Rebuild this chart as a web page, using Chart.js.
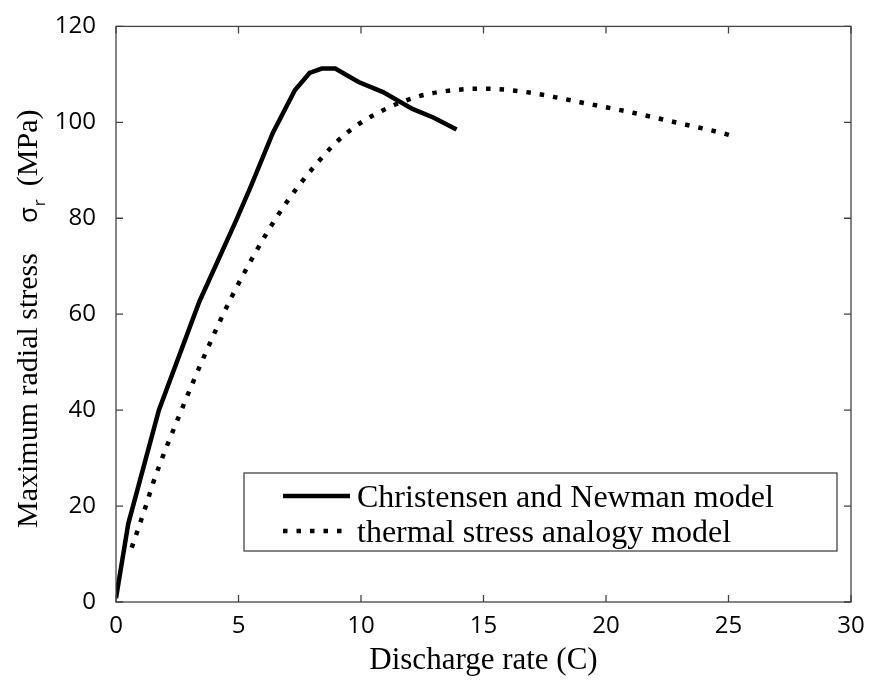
<!DOCTYPE html>
<html>
<head>
<meta charset="utf-8">
<script src="https://cdn.jsdelivr.net/npm/chart.js@4"></script>
<style>
  html, body { margin: 0; padding: 0; background: #fff; }
</style>
</head>
<body>
<canvas id="stress" width="874" height="684"></canvas>
<script>
// Christensen and Newman model (solid)
const rateCN   = [0, 0.5, 1.75, 3.4, 4.9, 5.5, 6.4, 7.3, 7.9, 8.4, 8.95, 9.9, 10.9, 12.1, 12.95, 13.9];
const stressCN = [0.8, 16.3, 40, 62.6, 79.5, 86.6, 97.8, 106.7, 110.3, 111.2, 111.2, 108.4, 106.3, 102.8, 101, 98.5];

// thermal stress analogy model (dotted)
const rateTS   = [0.64, 1.25, 1.52, 2.68, 3.57, 4.72, 6.63, 8.26, 9.42, 10.78, 12.34, 13.97, 15.1, 16.76, 18.94, 21.1, 23.27, 24.93, 25.35];
const stressTS = [11.3, 20.5, 24.9, 40.1, 50.9, 63.6, 80.8, 91.8, 97.8, 102.2, 105.4, 106.8, 107, 106.3, 104.2, 102, 99.5, 97.5, 96.8];

const seriesNames = ['Christensen and Newman model', 'thermal stress analogy model'];
const xTicks = [0, 5, 10, 15, 20, 25, 30];
const yTicks = [0, 20, 40, 60, 80, 100, 120];

const toPoints = (xs, ys) => xs.map((x, i) => ({ x: x, y: ys[i] }));

const tickFont = { family: 'Open Sans', size: 24 };
const serif = '"Liberation Serif", "DejaVu Serif", serif';

// box around the plot with inward ticks on all four sides (matlab look)
const boxPlugin = {
  id: 'box',
  afterDatasetsDraw(chart) {
    const ctx = chart.ctx, a = chart.chartArea;
    const xs = chart.scales.x, ys = chart.scales.y;
    const len = 7;
    ctx.save();
    ctx.strokeStyle = '#444';
    ctx.lineWidth = 1.3;
    ctx.strokeRect(a.left, a.top, a.right - a.left, a.bottom - a.top);
    ctx.beginPath();
    xTicks.forEach(v => {
      const px = xs.getPixelForValue(v);
      ctx.moveTo(px, a.bottom); ctx.lineTo(px, a.bottom - len);
      ctx.moveTo(px, a.top); ctx.lineTo(px, a.top + len);
    });
    yTicks.forEach(v => {
      const py = ys.getPixelForValue(v);
      ctx.moveTo(a.left, py); ctx.lineTo(a.left + len, py);
      ctx.moveTo(a.right, py); ctx.lineTo(a.right - len, py);
    });
    ctx.stroke();
    ctx.restore();
  }
};

// y title with the sigma_r subscript
const yTitlePlugin = {
  id: 'yTitle',
  afterDraw(chart) {
    const ctx = chart.ctx;
    ctx.save();
    ctx.translate(37, 528);
    ctx.rotate(-Math.PI / 2);
    ctx.fillStyle = '#000';
    ctx.textBaseline = 'alphabetic';
    ctx.font = '30px ' + serif;
    const first = 'Maximum radial stress';
    ctx.fillText(first, 0, 0);
    let pos = ctx.measureText(first).width + 30;
    ctx.font = '26px "Open Sans"';
    ctx.fillText('\u03c3', pos, 0);
    pos += ctx.measureText('\u03c3').width + 1;
    ctx.font = '17px "Open Sans"';
    ctx.fillText('r', pos, 8);
    pos += ctx.measureText('r').width + 13;
    ctx.font = '30px ' + serif;
    ctx.fillText('(MPa)', pos, 0);
    ctx.restore();
  }
};

// legend box in the lower right of the plot
const legendPlugin = {
  id: 'boxLegend',
  afterDraw(chart) {
    const ctx = chart.ctx, a = chart.chartArea;
    const right = a.right - 14, bottom = a.bottom - 51;
    const left = 244, top = bottom - 78;
    ctx.save();
    ctx.fillStyle = '#fff';
    ctx.fillRect(left, top, right - left, bottom - top);
    ctx.strokeStyle = '#444';
    ctx.lineWidth = 1.3;
    ctx.strokeRect(left, top, right - left, bottom - top);
    chart.data.datasets.forEach((ds, i) => {
      const y = top + 23 + i * 35;
      ctx.strokeStyle = ds.borderColor;
      ctx.lineWidth = ds.borderWidth;
      ctx.setLineDash(ds.borderDash || []);
      ctx.beginPath();
      ctx.moveTo(left + 39, y);
      ctx.lineTo(left + 106, y);
      ctx.stroke();
      ctx.setLineDash([]);
      ctx.fillStyle = '#000';
      ctx.font = '32px ' + serif;
      ctx.textBaseline = 'alphabetic';
      ctx.fillText(ds.label, left + 113, y + 11);
    });
    ctx.restore();
  }
};

const stressChart = new Chart(document.getElementById('stress').getContext('2d'), {
  type: 'scatter',
  data: {
    datasets: [
      {
        label: seriesNames[0],
        data: toPoints(rateCN, stressCN),
        showLine: true,
        borderColor: '#000',
        borderWidth: 4.5,
        pointRadius: 0,
        tension: 0
      },
      {
        label: seriesNames[1],
        data: toPoints(rateTS, stressTS),
        showLine: true,
        borderColor: '#000',
        borderWidth: 4.5,
        borderDash: [4.5, 9],
        borderCapStyle: 'butt',
        pointRadius: 0,
        cubicInterpolationMode: 'monotone'
      }
    ]
  },
  options: {
    responsive: false,
    animation: false,
    devicePixelRatio: 1,
    layout: { padding: { top: 23, right: 23, left: 0, bottom: 0 } },
    plugins: {
      legend: { display: false },
      tooltip: { enabled: false }
    },
    scales: {
      x: {
        type: 'linear',
        min: 0,
        max: 30,
        afterBuildTicks: s => { s.ticks = xTicks.map(v => ({ value: v })); },
        afterFit: s => { s.height = 82; },
        grid: { display: false },
        border: { display: false },
        ticks: { font: tickFont, color: '#000', padding: 2, maxRotation: 0 },
        title: {
          display: true,
          text: 'Discharge rate (C)',
          color: '#000',
          font: { family: serif, size: 31 },
          padding: { top: 0, bottom: 5 }
        }
      },
      y: {
        min: 0,
        max: 120,
        afterBuildTicks: s => { s.ticks = yTicks.map(v => ({ value: v })); },
        afterFit: s => { s.width = 116; },
        grid: { display: false },
        border: { display: false },
        ticks: { font: tickFont, color: '#000', padding: 12 }
      }
    }
  },
  plugins: [boxPlugin, yTitlePlugin, legendPlugin]
});
</script>
</body>
</html>
